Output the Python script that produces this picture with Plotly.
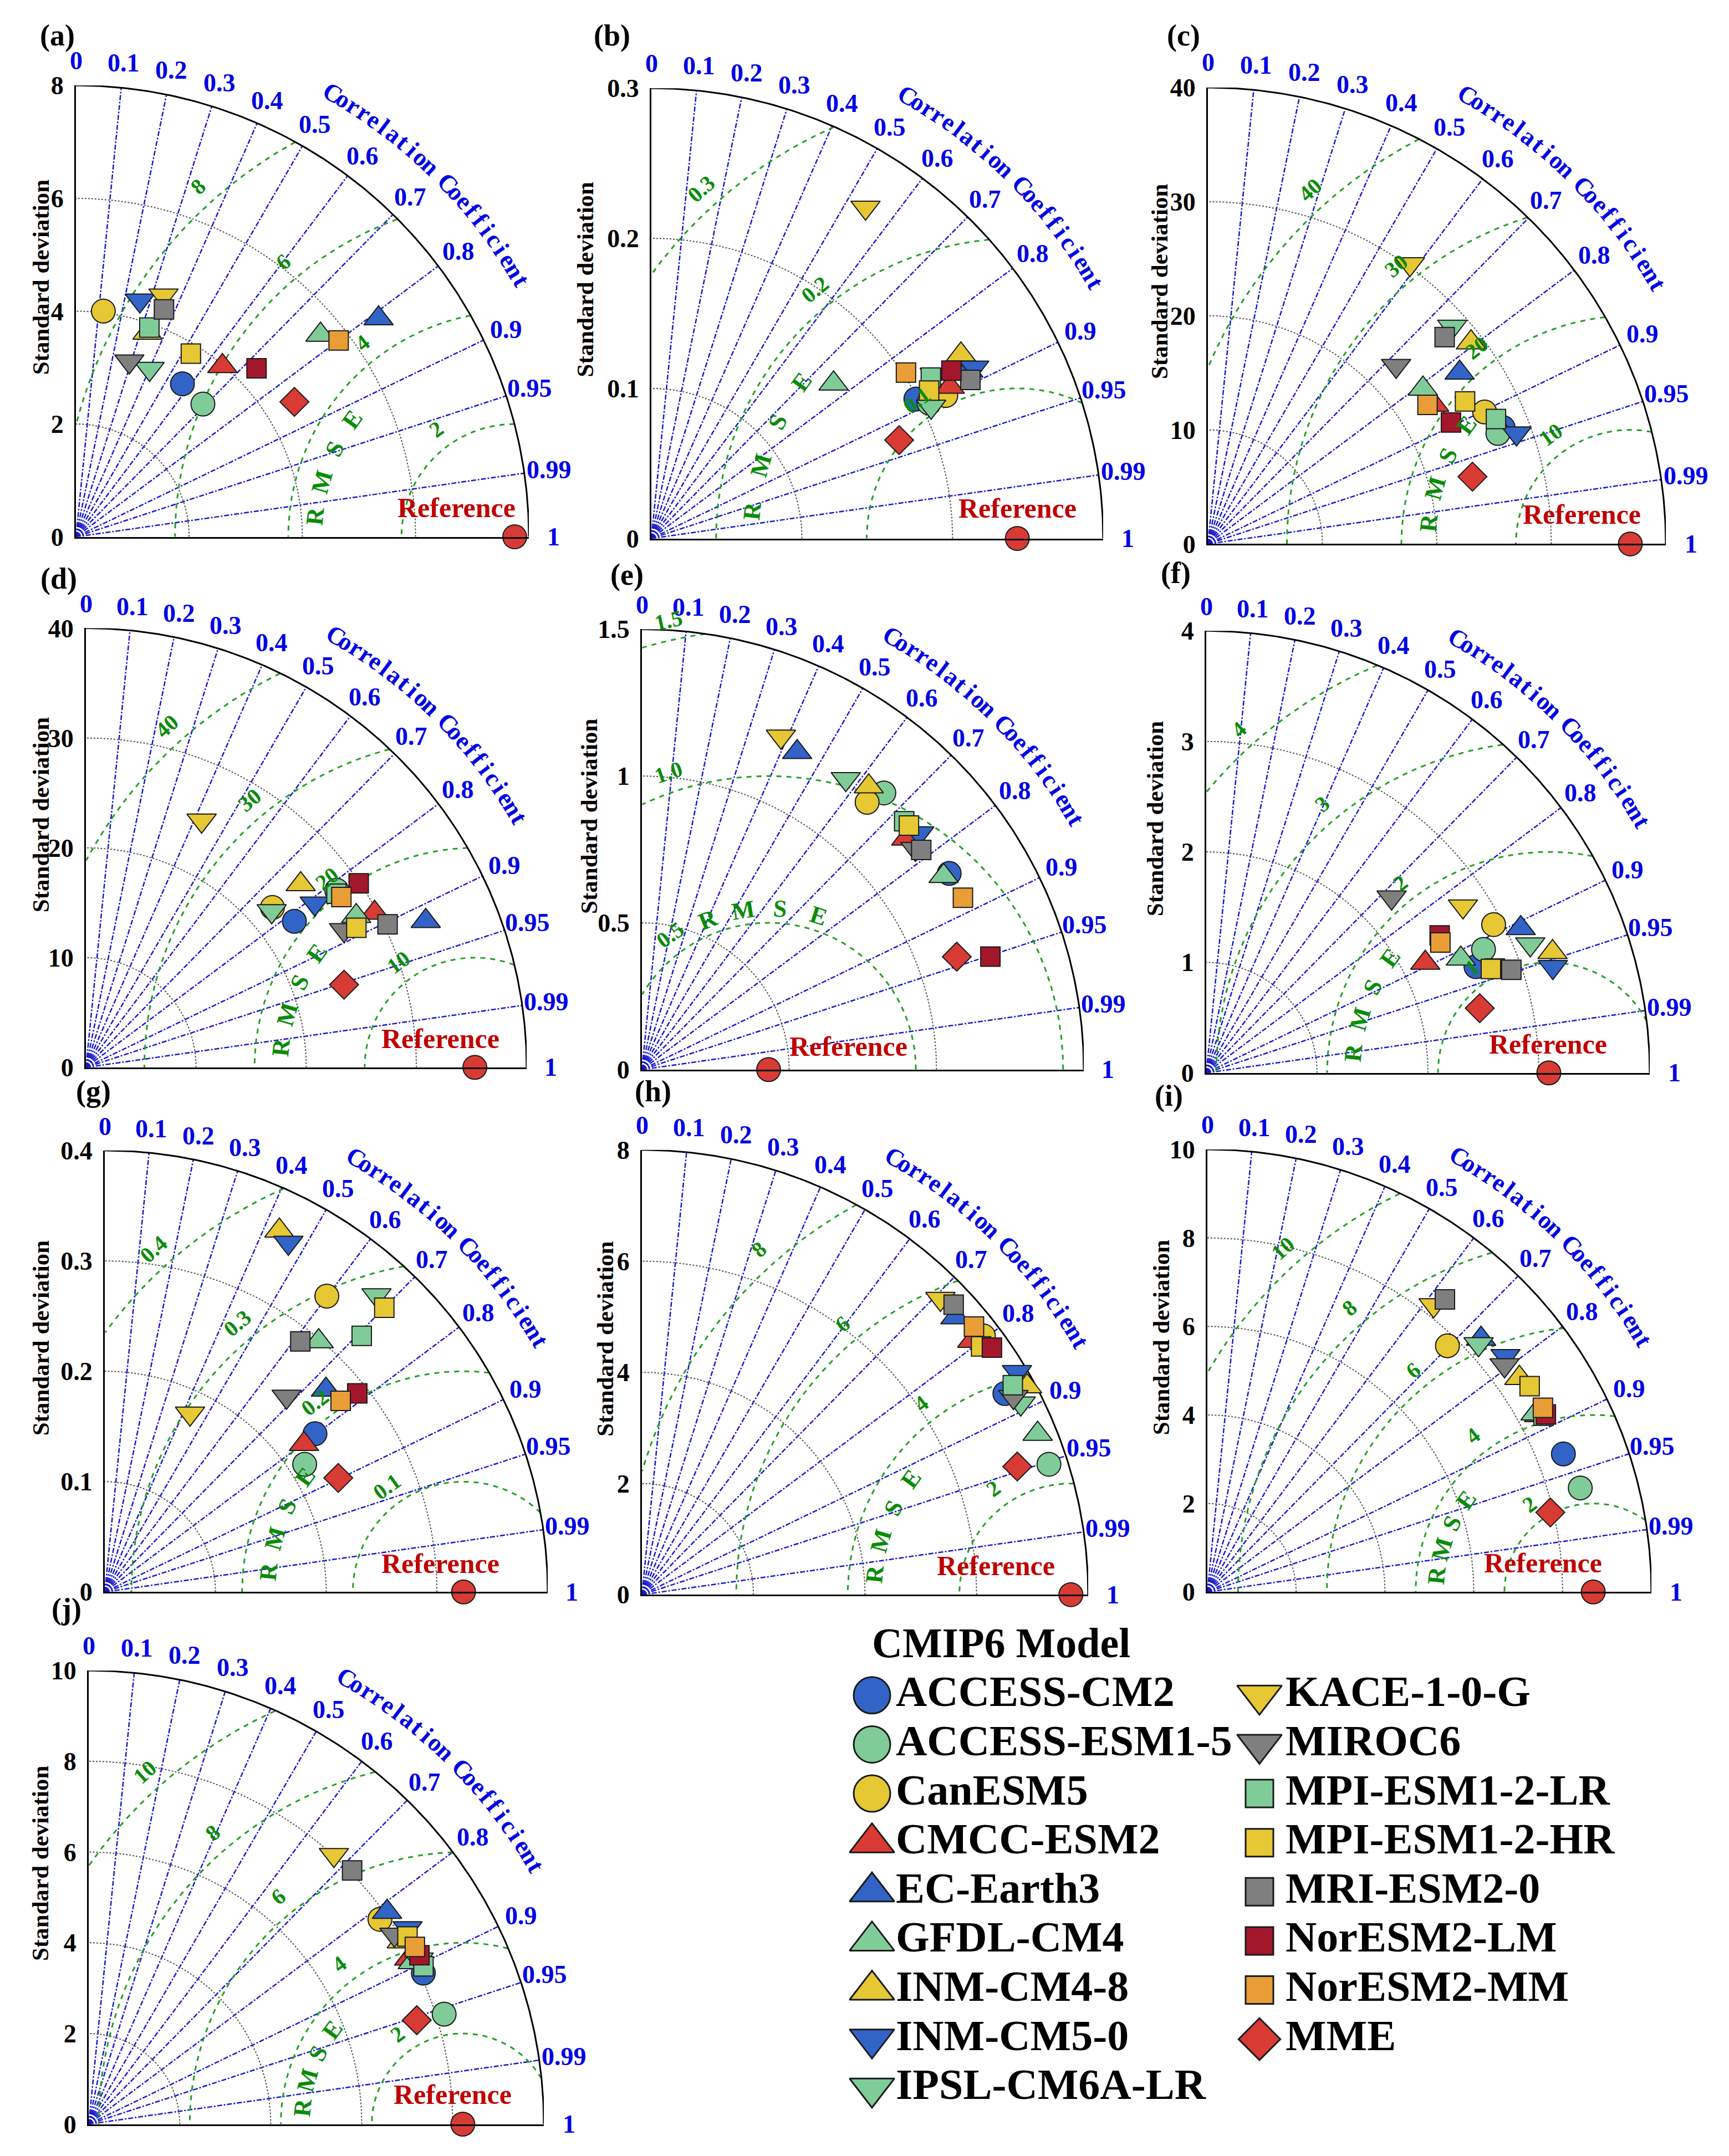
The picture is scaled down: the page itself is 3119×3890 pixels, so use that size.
import numpy as np
import plotly.graph_objects as go

W, H = 3119, 3890
SERIF = "Liberation Serif"
BLUE_TXT = "#0000e6"
GREEN = "#0a8c0a"
REF_RED = "#c00000"

models = ["ACCESS-CM2", "ACCESS-ESM1-5", "CanESM5", "CMCC-ESM2", "EC-Earth3",
          "GFDL-CM4", "INM-CM4-8", "INM-CM5-0", "IPSL-CM6A-LR", "KACE-1-0-G",
          "MIROC6", "MPI-ESM1-2-LR", "MPI-ESM1-2-HR", "MRI-ESM2-0",
          "NorESM2-LM", "NorESM2-MM", "MME"]
symbols = ["circle", "circle", "circle", "triangle-up", "triangle-up",
           "triangle-up", "triangle-up", "triangle-down", "triangle-down",
           "triangle-down", "triangle-down", "square", "square", "square",
           "square", "square", "diamond"]
colors = ["#3264c8", "#80cc98", "#e6c734", "#d83b34", "#3264c8",
          "#80cc98", "#e6c734", "#3264c8", "#80cc98", "#e6c734",
          "#7f7f7f", "#80cc98", "#e6c734", "#7f7f7f", "#a3172c",
          "#e99d36", "#d83b34"]

# standard deviation / correlation of each model, one pair of lists per panel
std_a = [3.30, 3.25, 4.03, 3.98, 6.60, 5.61, 3.83, 4.34, 3.25, 4.55, 3.25, 3.93, 3.83, 4.32, 4.37, 5.80, 4.54]
cor_a = [0.57, 0.69, 0.12, 0.65, 0.81, 0.77, 0.33, 0.26, 0.40, 0.34, 0.29, 0.33, 0.53, 0.36, 0.73, 0.80, 0.85]
ref_a = 7.75

std_b = [0.1987, 0.2053, 0.2175, 0.2224, 0.2383, 0.159, 0.2393, 0.2428, 0.2055, 0.2624, 0.2175, 0.2143, 0.2091, 0.2367, 0.2285, 0.202, 0.1771]
cor_b = [0.884, 0.898, 0.899, 0.891, 0.883, 0.761, 0.859, 0.883, 0.904, 0.542, 0.865, 0.866, 0.882, 0.895, 0.872, 0.837, 0.929]
ref_b = 0.243

std_c = [27.73, 27.12, 26.8, 23.22, 26.62, 23.19, 28.98, 28.65, 28.61, 30.22, 22.68, 27.44, 25.7, 27.5, 23.75, 22.73, 23.85]
cor_c = [0.930, 0.934, 0.902, 0.851, 0.826, 0.810, 0.793, 0.941, 0.746, 0.584, 0.725, 0.917, 0.874, 0.752, 0.894, 0.844, 0.969]
ref_c = 36.9

std_d = [23.13, 27.9, 22.33, 29.74, 33.6, 28.13, 25.65, 25.58, 22.07, 24.82, 26.56, 27.7, 27.64, 30.32, 29.9, 27.9, 24.61]
cor_d = [0.818, 0.816, 0.758, 0.881, 0.918, 0.872, 0.760, 0.812, 0.764, 0.423, 0.882, 0.821, 0.888, 0.903, 0.828, 0.831, 0.952]
ref_d = 35.3

std_e = [1.239, 1.250, 1.189, 1.193, 1.203, 1.218, 1.234, 1.239, 1.208, 1.229, 1.195, 1.228, 1.230, 1.208, 1.244, 1.237, 1.136]
cor_e = [0.842, 0.657, 0.643, 0.752, 0.438, 0.841, 0.624, 0.760, 0.573, 0.384, 0.777, 0.725, 0.737, 0.785, 0.951, 0.881, 0.941]
ref_e = 0.43

std_f = [2.616, 2.739, 2.919, 2.212, 3.124, 2.518, 3.309, 3.270, 3.146, 2.763, 2.306, 2.768, 2.734, 2.906, 2.445, 2.419, 2.535]
cor_f = [0.930, 0.913, 0.888, 0.893, 0.908, 0.912, 0.944, 0.956, 0.929, 0.838, 0.725, 0.940, 0.939, 0.947, 0.861, 0.873, 0.973]
ref_f = 3.09

std_g = [0.2379, 0.2144, 0.3348, 0.2243, 0.2710, 0.2981, 0.3633, 0.3573, 0.3641, 0.1791, 0.2415, 0.3282, 0.3606, 0.2876, 0.2905, 0.2745, 0.2348]
cor_g = [0.798, 0.842, 0.599, 0.802, 0.737, 0.648, 0.434, 0.464, 0.674, 0.430, 0.680, 0.707, 0.700, 0.614, 0.785, 0.776, 0.898]
ref_g = 0.324

std_h = [7.445, 7.664, 7.69, 7.476, 7.515, 7.661, 7.856, 7.827, 7.614, 7.548, 7.551, 7.642, 7.544, 7.645, 7.689, 7.661, 7.113]
cor_h = [0.874, 0.952, 0.796, 0.792, 0.748, 0.926, 0.879, 0.859, 0.892, 0.709, 0.882, 0.870, 0.806, 0.731, 0.816, 0.777, 0.946]
ref_h = 7.69

std_i = [8.603, 8.721, 7.758, 8.473, 8.408, 8.417, 8.529, 8.575, 8.287, 8.245, 8.43, 8.555, 8.62, 8.505, 8.614, 8.627, 7.93]
cor_i = [0.932, 0.963, 0.697, 0.882, 0.733, 0.878, 0.824, 0.783, 0.737, 0.618, 0.794, 0.885, 0.842, 0.629, 0.885, 0.876, 0.974]
ref_i = 8.69

std_j = [8.072, 8.178, 7.833, 7.930, 8.054, 7.967, 7.972, 8.234, 8.110, 8.017, 7.912, 8.137, 8.135, 8.05, 8.166, 8.162, 7.564]
cor_j = [0.911, 0.955, 0.817, 0.888, 0.814, 0.894, 0.863, 0.851, 0.894, 0.672, 0.849, 0.904, 0.861, 0.719, 0.890, 0.878, 0.953]
ref_j = 8.22

panels = [
    dict(tag="(a)", std=std_a, cor=cor_a, ref=ref_a, rmax=8, dtick=2, levels=[2, 4, 6, 8]),
    dict(tag="(b)", std=std_b, cor=cor_b, ref=ref_b, rmax=0.3, dtick=0.1, levels=[0.1, 0.2, 0.3]),
    dict(tag="(c)", std=std_c, cor=cor_c, ref=ref_c, rmax=40, dtick=10, levels=[10, 20, 30, 40]),
    dict(tag="(d)", std=std_d, cor=cor_d, ref=ref_d, rmax=40, dtick=10, levels=[10, 20, 30, 40]),
    dict(tag="(e)", std=std_e, cor=cor_e, ref=ref_e, rmax=1.5, dtick=0.5, levels=[0.5, 1.0, 1.5]),
    dict(tag="(f)", std=std_f, cor=cor_f, ref=ref_f, rmax=4, dtick=1, levels=[1, 2, 3, 4]),
    dict(tag="(g)", std=std_g, cor=cor_g, ref=ref_g, rmax=0.4, dtick=0.1, levels=[0.1, 0.2, 0.3, 0.4]),
    dict(tag="(h)", std=std_h, cor=cor_h, ref=ref_h, rmax=8, dtick=2, levels=[2, 4, 6, 8]),
    dict(tag="(i)", std=std_i, cor=cor_i, ref=ref_i, rmax=10, dtick=2, levels=[2, 4, 6, 8, 10]),
    dict(tag="(j)", std=std_j, cor=cor_j, ref=ref_j, rmax=10, dtick=2, levels=[2, 4, 6, 8, 10]),
]

corr_lines = [0.1, 0.2, 0.3, 0.4, 0.5, 0.6, 0.7, 0.8, 0.9, 0.95, 0.99]
corr_labels = ["0", "0.1", "0.2", "0.3", "0.4", "0.5", "0.6", "0.7", "0.8", "0.9", "0.95", "0.99", "1"]

# page layout in pixels: origin of each diagram, radius (x, y), tag and y-title placement
origins = [(129, 948), (1167, 951), (2171, 961), (147, 1918), (1150, 1922),
           (2168, 1928), (181, 2877), (1150, 2882), (2170, 2877), (152, 3850)]
radii = [817, 815, 826, 795, 797, 800, 799, 805, 801, 821]
tag_pos = [(95, 31), (1096, 31), (2127, 31), (98, 1024), (1123, 1017),
           (2113, 1014), (160, 1962), (1170, 1962), (2100, 1970), (112, 2908)]
ytitle_dx = [-64, -120, -87, -82, -96, -93, -116, -66, -84, -87]
ref_label_x = [0.84, 0.81, 0.816, 0.805, 0.468, 0.771, 0.758, 0.793, 0.756, 0.80]
ref_label_y = [0.065, 0.067, 0.065, 0.065, 0.053, 0.065, 0.065, 0.065, 0.065, 0.065]
YSTRETCH = 1.01

size_of = {"circle": 43, "triangle-up": 46, "triangle-down": 46, "square": 35, "diamond": 40}

fig = go.Figure()
axes = {}
annotations = []


def to_paper(i, x, y):
    ox, oy = origins[i]
    sx = radii[i] / panels[i]["rmax"]
    sy = sx * YSTRETCH
    return (ox + x * sx) / W, 1 - (oy - y * sy) / H


def add_text(i, x, y, text, size, color, angle=0):
    px, py = to_paper(i, x, y)
    annotations.append(dict(x=px, y=py, xref="paper", yref="paper", text=text,
                            showarrow=False, textangle=angle, xanchor="center",
                            yanchor="middle",
                            font=dict(family=SERIF, size=size, color=color, weight="bold")))


for i, p in enumerate(panels):
    k = "" if i == 0 else str(i + 1)
    xa, ya = "x" + k, "y" + k
    ox, oy = origins[i]
    Rx = radii[i]
    Ry = radii[i] * YSTRETCH
    rmax, ref = p["rmax"], p["ref"]
    ticks = list(np.round(np.arange(0, rmax + p["dtick"] / 2, p["dtick"]), 6))

    axes["xaxis" + k] = dict(domain=[ox / W, (ox + Rx) / W], range=[0, rmax], anchor=ya,
                             showgrid=False, zeroline=False, showticklabels=False,
                             ticks="", showline=True, linecolor="black", linewidth=3)
    axes["yaxis" + k] = dict(domain=[1 - oy / H, 1 - (oy - Ry) / H], range=[0, rmax], anchor=xa,
                             showgrid=False, zeroline=False, ticks="", tickvals=ticks,
                             showline=True, linecolor="black", linewidth=3,
                             ticklabelstandoff=10,
                             tickfont=dict(family=SERIF, size=46, color="black", weight="bold"))

    # correlation rays
    rx, ry = [], []
    for c in corr_lines:
        rx += [0, rmax * c, None]
        ry += [0, rmax * np.sqrt(1 - c * c), None]
    fig.add_trace(go.Scatter(x=rx, y=ry, xaxis=xa, yaxis=ya, mode="lines", hoverinfo="skip",
                             line=dict(color="#1818d0", width=2.5, dash="dashdot")))

    # standard deviation arcs
    th = np.linspace(0, np.pi / 2, 181)
    ax_, ay_ = [], []
    for s in ticks[1:-1]:
        ax_ += list(s * np.cos(th)) + [None]
        ay_ += list(s * np.sin(th)) + [None]
    fig.add_trace(go.Scatter(x=ax_, y=ay_, xaxis=xa, yaxis=ya, mode="lines", hoverinfo="skip",
                             line=dict(color="#505050", width=2, dash="dot")))

    # centred RMSE contours
    ph = np.linspace(0, np.pi, 1441)
    cx, cy = [], []
    for L in p["levels"]:
        x = ref + L * np.cos(ph)
        y = L * np.sin(ph)
        ok = (x >= 0) & (x * x + y * y <= rmax * rmax)
        cx += [float(v) if m else None for v, m in zip(x, ok)] + [None]
        cy += [float(v) if m else None for v, m in zip(y, ok)] + [None]
    fig.add_trace(go.Scatter(x=cx, y=cy, xaxis=xa, yaxis=ya, mode="lines", hoverinfo="skip",
                             line=dict(color="#22a022", width=3, dash="dash")))

    # outer arc
    fig.add_trace(go.Scatter(x=rmax * np.cos(th), y=rmax * np.sin(th), xaxis=xa, yaxis=ya,
                             mode="lines", hoverinfo="skip", line=dict(color="black", width=3)))

    # models
    st = np.array(p["std"])
    co = np.array(p["cor"])
    fig.add_trace(go.Scatter(x=st * co, y=st * np.sqrt(1 - co ** 2), xaxis=xa, yaxis=ya,
                             mode="markers", text=models, cliponaxis=False,
                             marker=dict(symbol=symbols, color=colors, opacity=1,
                                         size=[size_of[s] for s in symbols],
                                         line=dict(color="#1a1a1a", width=2))))
    # reference
    fig.add_trace(go.Scatter(x=[ref], y=[0], xaxis=xa, yaxis=ya, mode="markers", cliponaxis=False,
                             marker=dict(symbol="circle", color="#d83b34", size=43, opacity=1,
                                         line=dict(color="#1a1a1a", width=2))))

    # correlation tick labels
    vals = [0.0] + corr_lines + [1.0]
    for c, lab in zip(vals, corr_labels):
        a = np.arccos(c)
        add_text(i, 1.055 * rmax * np.cos(a), 1.055 * rmax * np.sin(a), lab, 46, BLUE_TXT)

    # curved axis title
    title = "Correlation Coefficient"
    for n, ch in enumerate(title):
        if ch == " ":
            continue
        a = np.radians(60 - 30 * n / (len(title) - 1))
        add_text(i, 1.135 * rmax * np.cos(a), 1.135 * rmax * np.sin(a), ch, 45, BLUE_TXT,
                 angle=90 - np.degrees(a))

    # RMSE contour labels
    nl = len(p["levels"])
    for j, L in enumerate(p["levels"]):
        phi = np.radians(126 + 6 * j / max(nl - 1, 1))
        rr = L + 0.045 * rmax
        x = ref + rr * np.cos(phi)
        if x < 0.06 * rmax:
            x = 0.06 * rmax
            phi = np.pi - np.arccos((ref - x) / rr)
        y = rr * np.sin(phi)
        lab = f"{L:.1f}" if p["dtick"] < 1 else f"{L:g}"
        add_text(i, x, y, lab, 40, GREEN, angle=90 - np.degrees(phi))

    # RMSE letters
    if p["tag"] == "(e)":
        lr, angs = 0.55, [112, 99, 86, 72]
    else:
        lr, angs = 1.77 * p["levels"][0], [174, 164, 154, 144]
    for ch, ag in zip("RMSE", angs):
        phi = np.radians(ag)
        add_text(i, ref + lr * np.cos(phi), lr * np.sin(phi), ch, 44, GREEN, angle=90 - ag)

    add_text(i, ref_label_x[i] * rmax, ref_label_y[i] * rmax, "Reference", 50, REF_RED)

    # y-axis title
    annotations.append(dict(x=(ox + ytitle_dx[i]) / W, y=1 - (oy - 0.575 * Ry) / H,
                            xref="paper", yref="paper", text="Standard deviation",
                            showarrow=False, textangle=-90, xanchor="center", yanchor="middle",
                            font=dict(family=SERIF, size=43, color="black", weight="bold")))

    tx, ty = tag_pos[i]
    annotations.append(dict(x=tx / W, y=1 - ty / H, xref="paper", yref="paper", text=p["tag"],
                            showarrow=False, xanchor="center", yanchor="middle",
                            font=dict(family=SERIF, size=54, color="black", weight="bold")))

# legend drawn in its own pixel-scaled axis
axes["xaxis11"] = dict(domain=[1500 / W, 1], range=[1500, W], visible=False, anchor="y11")
axes["yaxis11"] = dict(domain=[0, (H - 2900) / H], range=[H, 2900], visible=False, anchor="x11")
leg_size = {"circle": 66, "triangle-up": 70, "triangle-down": 70, "square": 50, "diamond": 58}
rows = [n if n < 9 else n - 9 for n in range(len(models))]
mx = [1565 if n < 9 else 2264 for n in range(len(models))]
txx = [1608 if n < 9 else 2311 for n in range(len(models))]
my = [3066 + 89.8 * r for r in rows]
fig.add_trace(go.Scatter(x=mx, y=my, xaxis="x11", yaxis="y11", mode="markers", cliponaxis=False,
                         marker=dict(symbol=symbols, color=colors, opacity=1,
                                     size=[leg_size[s] for s in symbols],
                                     line=dict(color="#1a1a1a", width=3))))
fig.add_trace(go.Scatter(x=txx, y=my, xaxis="x11", yaxis="y11", mode="text", text=models,
                         textposition="middle right", cliponaxis=False,
                         textfont=dict(family=SERIF, size=78, color="black", weight="bold")))
annotations.append(dict(x=1798 / W, y=1 - 2970 / H, xref="paper", yref="paper",
                        text="CMIP6 Model", showarrow=False, xanchor="center", yanchor="middle",
                        font=dict(family=SERIF, size=76, color="black", weight="bold")))

fig.update_layout(width=W, height=H, margin=dict(l=0, r=0, t=0, b=0),
                  paper_bgcolor="white", plot_bgcolor="white", showlegend=False,
                  annotations=annotations, **axes)

fig.write_html("out.html")
